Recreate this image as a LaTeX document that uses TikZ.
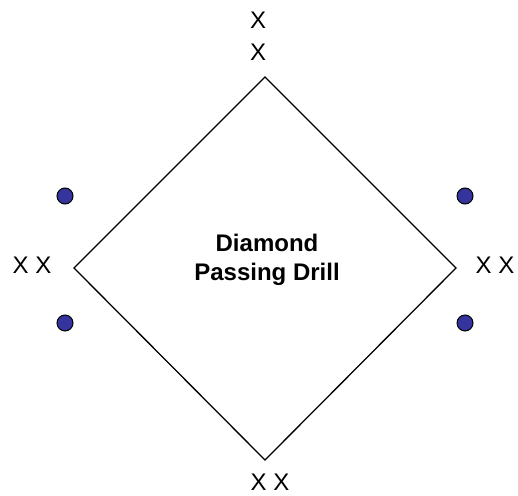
\documentclass[tikz,border=0pt]{standalone}
\usepackage{fontspec}
\setmainfont{Liberation Sans}
\usepackage{xcolor}
\definecolor{ballblue}{RGB}{52,52,156}

\begin{document}
\begin{tikzpicture}[
  x=1pt, y=-1pt,
  player/.style={font=\fontsize{24}{28}\selectfont, inner sep=0pt},
  cone/.style={draw, circle, fill=ballblue, minimum size=16pt, inner sep=0pt, line width=1pt},
  edge/.style={line width=1.3pt}
]
\useasboundingbox (0,0) rectangle (518,495);

% corners of the diamond
\coordinate (top) at (265,77);
\coordinate (right) at (456,268);
\coordinate (bottom) at (265,460);
\coordinate (left) at (74,268);
\draw[edge] (top) -- (right) -- (bottom) -- (left) -- cycle;

\node[font=\bfseries\fontsize{24}{29}\selectfont, align=center] (title) at (267,260) {Diamond\\Passing Drill};

% players
\node[player] (topa) at (258,20) {X};
\node[player] (topb) at (258,52) {X};
\node[player] (leftx) at (32,265) {X X};
\node[player] (rightx) at (495,265) {X X};
\node[player] (bottomx) at (270,482) {X X};

% cones
\node[cone] (cul) at (65,196) {};
\node[cone] (cll) at (65,323) {};
\node[cone] (cur) at (465,196) {};
\node[cone] (clr) at (465,323) {};
\end{tikzpicture}
\end{document}
